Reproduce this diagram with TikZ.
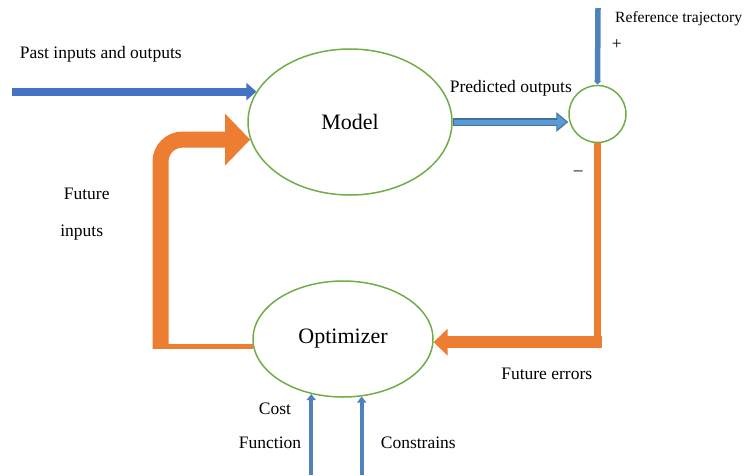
\documentclass[tikz,border=0pt]{standalone}
\usepackage{fontspec}
\setmainfont{Liberation Serif}
\usetikzlibrary{shapes.geometric}
\usetikzlibrary{arrows.meta}
\usetikzlibrary{calc}
\usetikzlibrary{math}

\definecolor{mpcgreen}{HTML}{70AD47}
\definecolor{mpcblue}{HTML}{4472C4}
\definecolor{mpclight}{HTML}{5B9BD5}
\definecolor{mpcdark}{HTML}{41719C}
\definecolor{mpcsteel}{HTML}{4F81BD}
\definecolor{mpcorange}{HTML}{ED7D31}

\begin{document}
\begin{tikzpicture}[x=1pt,y=-1pt,
  block/.style={ellipse, draw=mpcgreen, line width=1.5pt, inner sep=0pt},
  small/.style={font=\fontsize{17.5}{20}\selectfont, inner sep=0pt, text depth=0pt},
  big/.style={font=\fontsize{22}{26}\selectfont}]

  \tikzmath{
    \errline  = 7;   % width of the line leaving the comparator
    \errarrow = 12;  % width of the future errors arrow
    \inarrow  = 16;  % width of the future inputs arrow
    \feed     = 4;   % width of cost function and constrains lines
  }

  \useasboundingbox (0,0) rectangle (746,475);

  % Blocks of the controller
  \node[block, big, minimum width=204pt, minimum height=146pt] (model) at (350,122) {Model};
  \node[block, big, minimum width=180pt, minimum height=116pt] (opt) at (343,339) {Optimizer};
  \node[circle, draw=mpcgreen, line width=1.5pt, minimum size=57pt, inner sep=0pt] (sum) at (597.5,114) {};

  % Free ends of the connectors
  \coordinate (left) at (12,0);
  \coordinate (refsrc) at (598,8);
  \coordinate (bendx) at (160.5,0);
  \coordinate (bottom) at (0,475);
  \coordinate (bend) at (bendx |- opt.185);
  \coordinate (errbend) at (sum.south |- opt.358);

  % Past inputs and outputs
  \draw[mpcblue, line width=8pt, -{Triangle[length=10pt,width=17pt]}]
    (left |- model.162) -- (model.162);
  \node[small] (pastlbl) at (100.8,52.7) {Past inputs and outputs};

  % Predicted outputs (outlined arrow)
  \draw[mpcdark, line width=8pt, -{Triangle[length=12pt,width=19pt]}]
    (model.east) -- (model.east -| sum.west);
  \draw[mpclight, line width=5pt, shorten >=1.8pt, -{Triangle[length=9pt,width=14pt]}]
    ([xshift=1pt]model.east) -- (model.east -| sum.west);
  \node[small] (predlbl) at (510.8,86) {Predicted outputs};

  % Reference trajectory
  \draw[mpcsteel, line width=5.5pt, -{Triangle[length=4pt,width=7pt]}] (refsrc) -- (sum.north);
  \node[small, font=\fontsize{15.6}{18}\selectfont, anchor=west] (reflbl) at (615,17) {Reference trajectory};
  \node[small] (plus) at (616.7,45) {+};
  \node[small] (minus) at (578.3,173.3) {–};

  % Future errors
  \draw[mpcorange, line width=\errline pt] (sum.south) -- (errbend);
  \draw[mpcorange, line width=\errarrow pt, -{Triangle[length=14pt,width=26pt]}]
    ([xshift=4pt]errbend) -- (opt.358);
  \node[small] (errlbl) at (546.7,374) {Future errors};

  % Future inputs back to the model
  \draw[mpcorange, line width=5pt] (opt.185) -- ([xshift=-8pt]bend);
  \draw[mpcorange, line width=\inarrow pt, rounded corners=22pt, -{Triangle[length=25pt,width=50pt]}]
    ([yshift=-2pt]bend) |- (model.190);
  \node[small] (futlbl) at (86.7,194) {Future};
  \node[small] (inlbl) at (81.7,231) {inputs};

  % Cost function and constrains
  \draw[mpcsteel, line width=\feed pt, -{Triangle[length=6pt,width=9pt]}] (opt.240 |- bottom) -- (opt.240);
  \draw[mpcsteel, line width=\feed pt, -{Triangle[length=6pt,width=9pt]}] (opt.288 |- bottom) -- (opt.288);
  \node[small] (costlbl) at (275,408.3) {Cost};
  \node[small] (funlbl) at (270,442.7) {Function};
  \node[small] (conlbl) at (418.3,442.7) {Constrains};

\end{tikzpicture}
\end{document}
